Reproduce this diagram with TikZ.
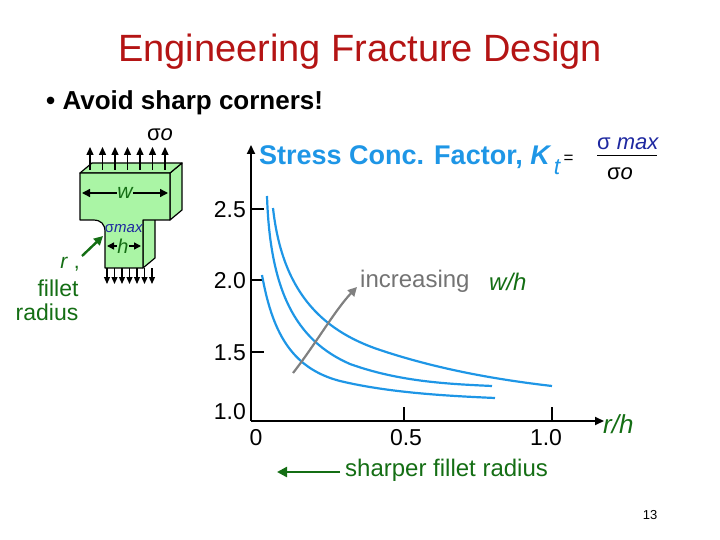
\documentclass[tikz,border=0pt]{standalone}
\usepackage{fontspec}
\setmainfont{Liberation Sans}
\usetikzlibrary{arrows.meta}
\definecolor{dred}{RGB}{180,20,20}
\definecolor{kblue}{RGB}{30,150,230}
\definecolor{dgreen}{RGB}{20,110,20}
\definecolor{lgreen}{RGB}{170,245,165}
\definecolor{nblue}{RGB}{30,40,160}
\begin{document}
\begin{tikzpicture}[x=1pt,y=-1pt,
  ax/.style={line width=2pt},
  curve/.style={kblue,line width=2.2pt},
  face/.style={fill=lgreen,draw=black,line width=1.2pt,line join=round},
  lbl/.style={inner sep=0pt}]
\useasboundingbox (0,0) rectangle (720,540);
\node[lbl,dred,font=\fontsize{38}{42}\selectfont] (title) at (360,52) {Engineering Fracture Design};
\node[lbl,anchor=west,font=\fontsize{26}{30}\selectfont\bfseries] (bul) at (46,103) {• Avoid sharp corners!};
% specimen
\draw[face] (170,173)--(182,163)--(182,210)--(170,220)--cycle;
\draw[face] (143,220)--(155,212)--(155,258)--(143,268)--cycle;
\draw[face] (80,173)--(92,163)--(182,163)--(170,173)--cycle;
\draw[face] (80,173)--(170,173)--(170,220)--(143,220)--(143,268)--(105,268)--(105,232) .. controls (105,224) and (101,220) .. (93,220)--(80,220)--cycle;
\foreach \i in {0,...,6} \draw[-{Triangle[length=8pt,width=7pt]},line width=1.4pt] (90+12.5*\i,170)--(90+12.5*\i,147);
\foreach \i in {0,...,6} \draw[-{Triangle[length=7pt,width=6pt]},line width=1.2pt] (107+7.5*\i,268)--(107+7.5*\i,284);
\node[lbl,font=\fontsize{22}{24}\selectfont] (so) at (160,135) {σ\textit{o}};
\node[lbl,dgreen,fill=lgreen,font=\fontsize{21}{23}\selectfont\itshape] (w) at (125,193) {w};
\draw[{Triangle[length=8pt,width=8pt]}-,line width=1.4pt] (82,193)--(w.west);
\draw[-{Triangle[length=8pt,width=8pt]},line width=1.4pt] (w.east)--(168,193);
\node[lbl,nblue,font=\fontsize{15}{17}\selectfont] (smax) at (124,229) {σ\textit{max}};
\node[lbl,dgreen,font=\fontsize{20}{22}\selectfont\itshape] (h) at (123,246) {h};
\draw[{Triangle[length=7pt,width=7pt]}-,line width=1.4pt] (107,246)--(h.west);
\draw[-{Triangle[length=7pt,width=7pt]},line width=1.4pt] (h.east)--(141,246);
\coordinate (rs) at (82,256);
\coordinate (re) at (103,236);
\draw[-{Triangle[length=9pt,width=9pt]},dgreen,line width=2.4pt] (rs)--(re);
\node[lbl,dgreen,font=\fontsize{21}{23}\selectfont] (r) at (70,264) {\textit{r} ,};
\node[lbl,dgreen,font=\fontsize{23}{25}\selectfont] (fil) at (58,288) {fillet};
\node[lbl,dgreen,font=\fontsize{23}{25}\selectfont] (rad) at (47,312) {radius};
% axes
\coordinate (O) at (251,421);
\coordinate (Y) at (251,145);
\coordinate (X) at (604,421);
\draw[ax,-{Triangle[length=9pt,width=8pt]}] (O)--(Y);
\draw[ax,-{Triangle[length=9pt,width=8pt]}] (O)--(X);
\foreach \y/\t in {209/2.5,280/2.0,352/1.5} {\draw[ax] (251,\y)--(264,\y); \node[lbl,anchor=east,font=\fontsize{23}{25}\selectfont] at (246,\y+1) {\t};}
\node[lbl,anchor=east,font=\fontsize{23}{25}\selectfont] (l10) at (246,412) {1.0};
\foreach \x in {404,552} \draw[ax] (\x,421)--(\x,407);
\node[lbl,font=\fontsize{23}{25}\selectfont] (x0) at (256,438) {0};
\node[lbl,font=\fontsize{23}{25}\selectfont] (x5) at (406,438) {0.5};
\node[lbl,font=\fontsize{23}{25}\selectfont] (x1) at (546,438) {1.0};
\node[lbl,dgreen,anchor=west,font=\fontsize{26}{28}\selectfont\itshape] (rh) at (603,424) {r/h};
% curves
\draw[curve] (262,275) .. controls (272,330) and (290,368) .. (340,381) .. controls (390,393) and (450,396) .. (495,398);
\draw[curve] (267,196) .. controls (270,290) and (295,340) .. (350,364) .. controls (400,382) and (450,384) .. (492,386);
\draw[curve] (273,208) .. controls (282,290) and (320,330) .. (380,350) .. controls (440,370) and (500,380) .. (552,386);
\coordinate (ga) at (293,373);
\coordinate (gb) at (357,287);
\draw[gray,line width=2.2pt,-{Triangle[length=9pt,width=9pt]}] (ga) .. controls (315,345) and (335,310) .. (gb);
\node[lbl,anchor=west,gray!90!black,font=\fontsize{24}{27}\selectfont] (inc) at (360,281) {increasing};
\node[lbl,anchor=west,dgreen,font=\fontsize{24}{27}\selectfont\itshape] (wh) at (489,282) {w/h};
\node[lbl,anchor=west,kblue,font=\fontsize{27}{30}\selectfont\bfseries] (kt) at (259,157) {Stress Conc. Factor, \textit{K}};
\node[lbl,anchor=north west,kblue,font=\fontsize{23}{25}\selectfont\itshape] (t) at ([xshift=2pt,yshift=-2pt]kt.east) {t};
\node[lbl,anchor=west,font=\fontsize{17}{19}\selectfont] (eq) at ([xshift=3pt]t.north east) {=};
\draw[line width=0.8pt] (597,155)--(657,155);
\node[lbl,nblue,font=\fontsize{22}{24}\selectfont] (num) at (628,144) {σ \textit{max}};
\node[lbl,font=\fontsize{22}{24}\selectfont] (den) at (620,174) {σ\textit{o}};
\node[lbl,anchor=west,dgreen,font=\fontsize{24}{27}\selectfont] (sh) at (345,470) {sharper fillet radius};
\coordinate (sa) at (340,472);
\coordinate (sb) at (277,472);
\draw[dgreen,line width=2.4pt,-{Triangle[length=10pt,width=10pt]}] (sa)--(sb);
\node[lbl,font=\fontsize{13}{15}\selectfont] (pg) at (650,515) {13};
\end{tikzpicture}
\end{document}
